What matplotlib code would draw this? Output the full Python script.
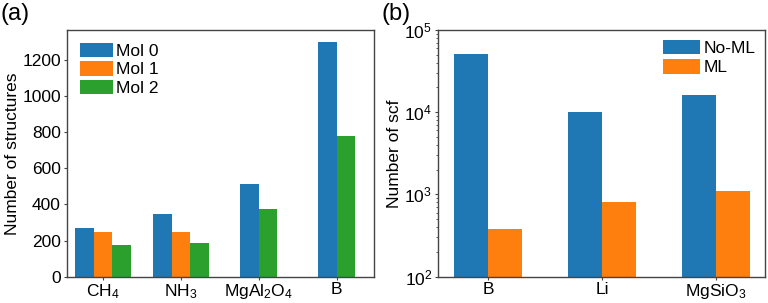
import numpy as np
import matplotlib
matplotlib.use("Agg")
import matplotlib.pyplot as plt

plt.rcParams["font.family"] = ["Liberation Sans", "DejaVu Sans"]
plt.rcParams["mathtext.fontset"] = "custom"
plt.rcParams["mathtext.rm"] = "Liberation Sans"
plt.rcParams["mathtext.it"] = "Liberation Sans:italic"

# panel (a) data
systems_a = ["$\\mathregular{CH_4}$", "$\\mathregular{NH_3}$",
             "$\\mathregular{MgAl_2O_4}$", "B"]
mol0 = [270, 344, 513, 1300]
mol1 = [245, 245, None, None]
mol2 = [175, 188, 377, 776]
mol_names = ["Mol 0", "Mol 1", "Mol 2"]

# panel (b) data
systems_b = ["B", "Li", "$\\mathregular{MgSiO_3}$"]
no_ml = [51400, 10000, 16300]
ml = [383, 813, 1087]

colors = ["#1f77b4", "#ff7f0e", "#2ca02c"]
fs = 12.5

fig = plt.figure(figsize=(7.68, 3.03), dpi=100)
ax1 = fig.add_axes([0.0866, 0.087, 0.4004, 0.814])
ax2 = fig.add_axes([0.570, 0.087, 0.426, 0.814])

# grouped bars, each group centred on its own tick
w = 0.24
series = [mol0, mol1, mol2]
labelled = [False, False, False]
for i in range(len(systems_a)):
    present = [k for k in range(3) if series[k][i] is not None]
    n = len(present)
    for j, k in enumerate(present):
        xpos = i + (j - (n - 1) / 2) * w
        lab = mol_names[k] if not labelled[k] else "_nolegend_"
        labelled[k] = True
        ax1.bar(xpos, series[k][i], w, color=colors[k], label=lab)

ax1.set_xticks(range(len(systems_a)))
ax1.set_xticklabels(systems_a)
ax1.set_xlim(-0.47, 3.48)
ax1.set_ylim(0, 1365)
ax1.set_ylabel("Number of structures", fontsize=fs, labelpad=2)
ax1.legend(loc="upper left", frameon=False, fontsize=fs,
           handlelength=1.9, handleheight=0.9, borderaxespad=0.35,
           labelspacing=0.12, handletextpad=0.2)

x = np.arange(len(systems_b))
wb = 0.3
ax2.bar(x - wb / 2, no_ml, wb, color=colors[0], label="No-ML")
ax2.bar(x + wb / 2, ml, wb, color=colors[1], label="ML")
ax2.set_yscale("log")
ax2.set_ylim(100, 100000)
ax2.set_xlim(-0.44, 2.43)
ax2.set_xticks(x)
ax2.set_xticklabels(systems_b)
ax2.set_ylabel("Number of scf", fontsize=fs, labelpad=2)
ax2.legend(loc="upper right", frameon=False, fontsize=fs,
           handlelength=2.1, handleheight=0.9, borderaxespad=0.15,
           labelspacing=0.2, handletextpad=0.2)

for ax in (ax1, ax2):
    for s in ax.spines.values():
        s.set_color("#444444")
        s.set_linewidth(1.0)
    ax.tick_params(which="major", labelsize=fs, length=2.5, pad=1.5,
                   color="#444444")
    ax.tick_params(which="minor", length=1.5, color="#444444")

fig.text(0.0, 0.99, "(a)", fontsize=17, va="top", ha="left")
fig.text(0.497, 0.99, "(b)", fontsize=17, va="top", ha="left")

fig.savefig("out.png", dpi=100)
